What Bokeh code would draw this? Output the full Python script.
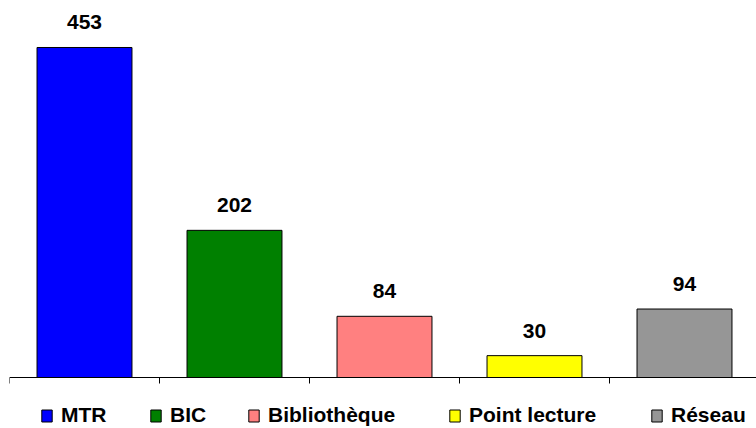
from bokeh.plotting import figure
from bokeh.models import ColumnDataSource, Range1d, FixedTicker, Legend, LegendItem, LinearAxis
from bokeh.core.properties import value
from bokeh.embed import file_html
from bokeh.resources import INLINE

categories = ["MTR", "BIC", "Bibliothèque", "Point lecture", "Réseau"]
values = [453, 202, 84, 30, 94]
colors = ["#0000FF", "#008000", "#FF8080", "#FFFF00", "#969696"]

xs = list(range(len(categories)))
src = ColumnDataSource(dict(x=xs, top=values, color=colors,
                            label=[str(v) for v in values], cat=categories))

scale = 0.7285          # px per unit
y0 = -51 / scale
p = figure(width=756, height=428, output_backend="svg", toolbar_location=None,
           x_range=Range1d(-0.5, -0.5 + 747 / 150), y_range=Range1d(y0, y0 + 424 / scale),
           x_axis_location=None, y_axis_location=None,
           min_border_left=9, min_border_right=0, min_border_top=4, min_border_bottom=0)
p.outline_line_color = None
p.xgrid.visible = False
p.ygrid.visible = False

r = p.vbar(x="x", top="top", width=0.633, bottom=0, source=src,
           fill_color="color", line_color="black", line_width=1)

p.text(x="x", y="top", text="label", source=src, text_align="center",
       text_baseline="alphabetic", y_offset=-25,
       text_font=value("Liberation Sans"), text_font_style="bold",
       text_font_size="21px", text_color="black")

ax = LinearAxis(fixed_location=0,
                ticker=FixedTicker(ticks=[i - 0.5 for i in range(len(categories) + 1)]))
ax.major_tick_out = 0
ax.major_tick_in = 6
ax.minor_tick_out = 0
ax.minor_tick_in = 0
ax.axis_line_color = "black"
ax.major_tick_line_color = "black"
ax.major_label_text_font_size = "0px"
ax.major_label_text_color = None
ax.major_label_standoff = 0
p.add_layout(ax, "above")

legend_x = [31, 140, 238, 439, 641]
for i, c in enumerate(categories):
    lg = Legend(items=[LegendItem(label=c, renderers=[r], index=i)],
                location=(legend_x[i], 1), orientation="horizontal",
                glyph_width=13, glyph_height=15, label_standoff=8,
                padding=0, margin=0, spacing=0,
                border_line_color=None, background_fill_color=None,
                background_fill_alpha=0,
                label_text_font="Liberation Sans", label_text_font_style="bold",
                label_text_font_size="21px", label_text_color="black")
    p.add_layout(lg, "center")

open("out.html", "w").write(file_html(p, INLINE))
